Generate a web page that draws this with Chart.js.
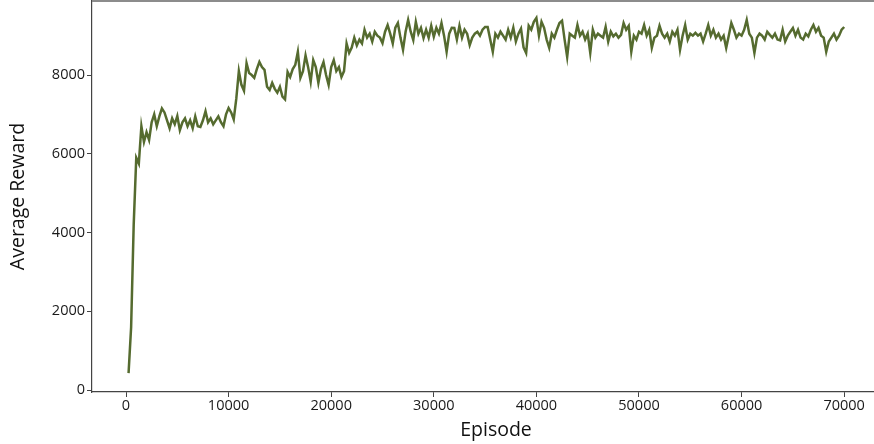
<!DOCTYPE html>
<html>
<head>
<meta charset="utf-8">
<script src="https://cdn.jsdelivr.net/npm/chart.js@4/dist/chart.umd.min.js"></script>
<style>
    html, body { margin: 0; padding: 0; background: #fff; overflow: hidden; }
    #wrap { width: 900px; height: 444px; }
</style>
</head>
<body>
<div id="wrap"><canvas id="rewardChart"></canvas></div>
<script>
    // episodes: 250, 500, ... 70000 (one reading every 250 episodes)
    const episodeStep = 250;
    const rewards = [
        430, 1600, 4200, 5900, 5750, 6700, 6300, 6550, 6350, 6800,
        7000, 6700, 6950, 7150, 7050, 6850, 6650, 6900, 6750, 6960,
        6600, 6800, 6900, 6700, 6850, 6650, 6950, 6700, 6680, 6850,
        7080, 6800, 6900, 6750, 6850, 6950, 6800, 6700, 7000, 7160,
        7050, 6870, 7400, 8100, 7750, 7600, 8300, 8050, 8000, 7930,
        8150, 8330, 8200, 8130, 7700, 7620, 7800, 7650, 7550, 7700,
        7450, 7380, 8080, 7950, 8150, 8260, 8590, 7930, 8100, 8500,
        8200, 7830, 8380, 8200, 7800, 8150, 8330, 8000, 7750, 8200,
        8380, 8100, 8200, 7950, 8100, 8800, 8560, 8700, 8950, 8750,
        8900, 8800, 9150, 8950, 9050, 8850, 9100, 9000, 8950, 8810,
        9100, 9270, 9050, 8800, 9200, 9320, 8950, 8640, 9100, 9400,
        9100, 8890, 9350, 9050, 9200, 8940, 9150, 8950, 9250, 8970,
        9200, 9050, 9320, 9000, 8590, 9050, 9200, 9195, 8900, 9250,
        8950, 9150, 9050, 8760, 8950, 9050, 9100, 9000, 9150, 9220,
        9220, 8900, 8590, 9050, 8950, 9100, 9000, 8900, 9150, 8950,
        9200, 8850, 9050, 9180, 8700, 8560, 9250, 9150, 9350, 9450,
        9000, 9350, 9200, 8900, 8690, 9050, 8950, 9150, 9320, 9380,
        8900, 8460, 9050, 9000, 8950, 9270, 9000, 9100, 8900, 9050,
        8560, 9150, 8950, 9050, 9000, 8950, 9220, 8850, 9100, 8980,
        9050, 8950, 9020, 9320, 9150, 9250, 8590, 9000, 8900, 9100,
        9050, 9270, 9000, 9150, 8690, 8950, 9000, 9250, 9050, 8950,
        9050, 8850, 9100, 9000, 9150, 8640, 9000, 9270, 8900, 9050,
        9000, 9070, 9000, 9050, 8850, 9050, 9270, 9000, 9150, 8950,
        9050, 8900, 9000, 8690, 9000, 9320, 9150, 8950, 9050, 9000,
        9150, 9400, 9050, 8950, 8560, 8950, 9050, 9000, 8900, 9100,
        9020, 8950, 9050, 8900, 8880, 9150, 8850, 9000, 9100, 9195,
        9000, 9150, 8950, 8900, 9050, 8980, 9150, 9270, 9100, 9200,
        9000, 8950, 8590, 8850, 8950, 9050, 8900, 9000, 9150, 9220
    ];
    const xTicks = [0, 10000, 20000, 30000, 40000, 50000, 60000, 70000];
    const yTicks = [0, 2000, 4000, 6000, 8000];

    const points = rewards.map((r, i) => ({ x: (i + 1) * episodeStep, y: r }));

    // grey frame line along the top of the plot
    const topBorder = {
        id: 'topBorder',
        afterDraw(chart) {
            const { ctx, chartArea } = chart;
            ctx.save();
            ctx.strokeStyle = '#8c8c8c';
            ctx.lineWidth = 2;
            ctx.beginPath();
            ctx.moveTo(chartArea.left, chartArea.top);
            ctx.lineTo(chartArea.right, chartArea.top);
            ctx.stroke();
            ctx.restore();
        }
    };

    const tickFont = { family: 'Open Sans', size: 14.5 };
    const titleFont = { family: 'Open Sans', size: 19.5 };

    new Chart(document.getElementById('rewardChart'), {
        type: 'line',
        data: {
            datasets: [{
                data: points,
                borderColor: '#556b2f',
                borderWidth: 2.5,
                pointRadius: 0,
                tension: 0,
                fill: false
            }]
        },
        options: {
            responsive: true,
            maintainAspectRatio: false,
            animation: false,
            layout: { padding: { top: 1, right: 0, left: 0, bottom: 0 } },
            plugins: { legend: { display: false }, tooltip: { enabled: false } },
            scales: {
                x: {
                    type: 'linear',
                    min: -3314,
                    max: 75440,
                    afterBuildTicks: s => { s.ticks = xTicks.map(v => ({ value: v })); },
                    afterFit: s => { s.height = 52; s.paddingLeft = 0; s.paddingRight = 0; },
                    grid: { drawOnChartArea: false, tickLength: 5, color: '#444' },
                    border: { color: '#444', width: 1.2 },
                    ticks: {
                        color: '#1a1a1a',
                        padding: 0,
                        maxRotation: 0,
                        font: tickFont,
                        callback: v => String(v)
                    },
                    title: {
                        display: true,
                        text: 'Episode',
                        color: '#111',
                        padding: { top: 0, bottom: 2 },
                        font: titleFont
                    }
                },
                y: {
                    min: -50,
                    max: 9880,
                    afterBuildTicks: s => { s.ticks = yTicks.map(v => ({ value: v })); },
                    afterFit: s => { s.width = 92; s.paddingTop = 0; s.paddingBottom = 0; },
                    grid: { drawOnChartArea: false, tickLength: 5, color: '#444' },
                    border: { color: '#444', width: 1.2 },
                    ticks: {
                        color: '#1a1a1a',
                        padding: 2,
                        font: tickFont,
                        callback: v => String(v)
                    },
                    title: {
                        display: true,
                        text: 'Average Reward',
                        color: '#111',
                        padding: { top: 7, bottom: 0 },
                        font: titleFont
                    }
                }
            }
        },
        plugins: [topBorder]
    });
</script>
</body>
</html>
